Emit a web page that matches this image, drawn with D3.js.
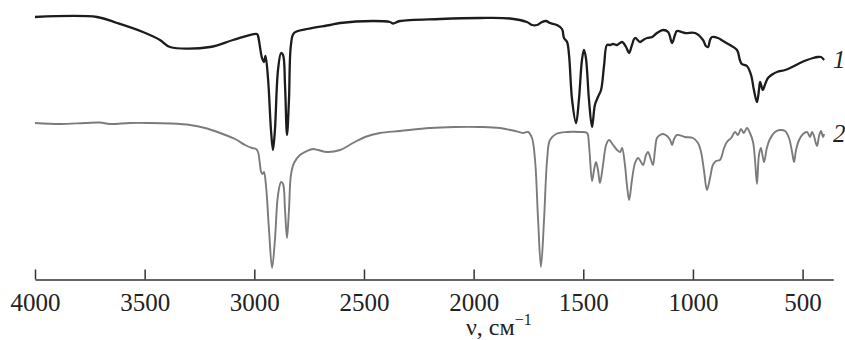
<!DOCTYPE html>
<html>
<head>
<meta charset="utf-8">
<script src="https://cdn.jsdelivr.net/npm/d3@7"></script>
<style>
  body { margin: 0; background: #fff; }
  svg { display: block; }
</style>
</head>
<body>
<svg class="Spectrum"></svg>
<script>
/* IR spectra, transmittance in arbitrary units (0 = axis line) */
const wavenumber_1 = [4000, 3717, 3626, 3508, 3430, 3384, 3202, 3097, 2988, 2983, 2965, 2956, 2949, 2937, 2924, 2915, 2906, 2892, 2878, 2869, 2860, 2851, 2842, 2833, 2819, 2760, 2655, 2609, 2459, 2381, 2367, 2336, 2153, 1971, 1834, 1757, 1734, 1711, 1688, 1670, 1652, 1620, 1597, 1588, 1574, 1565, 1551, 1533, 1520, 1506, 1497, 1488, 1474, 1460, 1447, 1433, 1419, 1405, 1392, 1378, 1364, 1346, 1323, 1305, 1291, 1278, 1264, 1241, 1227, 1209, 1186, 1164, 1136, 1113, 1095, 1082, 1073, 1036, 990, 954, 941, 931, 922, 913, 886, 863, 831, 799, 786, 777, 754, 735, 722, 708, 699, 694, 685, 681, 672, 658, 635, 617, 580, 557, 512, 480, 452, 430, 416, 402];
const transmittance_1 = [263, 263, 257, 248, 240, 233, 233, 240, 246, 244, 222, 218, 224, 200, 150, 130, 150, 210, 227, 225, 195, 145, 180, 235, 247, 251, 255, 257, 259, 258, 256.5, 259, 261, 262, 261.5, 258, 255, 255, 258, 259, 257, 255, 251, 242, 238, 225, 180, 157, 180, 220, 230, 222, 180, 153, 175, 183, 190, 215, 235, 235, 236, 235, 238, 233, 227, 235, 242, 238, 240, 242, 243, 247, 250, 248, 237, 245, 249, 247, 247, 240, 234, 233, 240, 243, 242, 239, 235, 230, 220, 216, 214, 205, 190, 178, 190, 198, 192, 190, 195, 202, 206, 208, 210, 212, 217, 220, 222, 223, 223, 220];

const wavenumber_2 = [4000, 3886, 3772, 3704, 3658, 3567, 3476, 3384, 3293, 3225, 3156, 3088, 3042, 3010, 2992, 2983, 2974, 2969, 2962, 2956, 2947, 2933, 2919, 2906, 2892, 2878, 2869, 2860, 2851, 2842, 2833, 2819, 2792, 2760, 2732, 2709, 2668, 2609, 2550, 2495, 2427, 2336, 2199, 2085, 1971, 1880, 1811, 1775, 1752, 1734, 1720, 1706, 1693, 1679, 1665, 1652, 1624, 1574, 1515, 1483, 1474, 1460, 1451, 1442, 1433, 1424, 1410, 1396, 1383, 1364, 1346, 1332, 1323, 1310, 1301, 1291, 1278, 1264, 1250, 1237, 1227, 1214, 1205, 1191, 1182, 1173, 1164, 1150, 1136, 1118, 1104, 1095, 1086, 1073, 1036, 1000, 977, 963, 950, 936, 922, 909, 895, 877, 858, 845, 826, 808, 795, 781, 768, 754, 740, 726, 717, 708, 699, 690, 676, 663, 649, 626, 603, 580, 562, 548, 539, 530, 516, 498, 480, 466, 457, 448, 441, 434, 425, 416, 407, 402];
const transmittance_2 = [157, 156, 157, 157.5, 156, 157, 157, 156.5, 155, 152, 147, 141, 135, 132, 131, 128, 115, 108, 106, 108, 95, 50, 12, 40, 85, 98, 96, 70, 42, 70, 105, 117, 125, 129, 131, 130, 128, 130, 137, 143, 147, 149, 152, 153, 153, 152, 149, 147, 148, 142, 120, 60, 13, 60, 120, 140, 146, 148, 148, 147, 135, 99, 110, 118, 110, 97, 115, 135, 140, 135, 130, 128, 132, 115, 95, 80, 100, 117, 122, 118, 115, 125, 128, 120, 115, 130, 142, 145, 146, 144, 140, 135, 141, 145, 143, 142, 137, 128, 110, 90, 102, 115, 119, 120, 132, 138, 142, 148, 145, 151, 147, 152, 147, 138, 120, 96, 125, 132, 118, 132, 141, 148, 150, 149, 142, 128, 118, 130, 140, 146, 148, 143, 148, 144, 138, 134, 144, 149, 143, 146];

const tick_values = [4000, 3500, 3000, 2500, 2000, 1500, 1000, 500];
const series_labels = ["1", "2"];

const width = 845;
const height = 340;
const serif = '"Liberation Serif", "Times New Roman", "DejaVu Serif", serif';

const main_svg = d3.select('.Spectrum')
  .attr('width', width)
  .attr('height', height);

const x = d3.scaleLinear().domain([4000, 360]).range([35, 833.3]);
const y = d3.scaleLinear().domain([0, 270]).range([280, 10]);

const line = d3.line()
  .x(d => x(d[0]))
  .y(d => y(d[1]))
  .curve(d3.curveCatmullRom.alpha(0.5));

const series = [
  { pts: d3.zip(wavenumber_1, transmittance_1), color: '#1c1c1c', w: 2.3 },
  { pts: d3.zip(wavenumber_2, transmittance_2), color: '#7b7b7b', w: 1.9 }
];

main_svg.append('g')
  .selectAll('path')
  .data(series)
  .enter().append('path')
  .attr('d', s => line(s.pts))
  .attr('fill', 'none')
  .attr('stroke', s => s.color)
  .attr('stroke-width', s => s.w)
  .attr('stroke-linejoin', 'round');

// curve numbers at the right end of each spectrum
main_svg.append('g')
  .selectAll('text')
  .data(series)
  .enter().append('text')
  .attr('x', 833)
  .attr('y', s => y(s.pts[s.pts.length - 1][1]) + 8)
  .style('font-family', serif)
  .style('font-style', 'italic')
  .style('font-size', '25px')
  .style('fill', '#222')
  .text((s, i) => series_labels[i]);

const axis = d3.axisBottom(x)
  .tickValues(tick_values)
  .tickSizeInner(-10)
  .tickSizeOuter(0)
  .tickPadding(14)
  .tickFormat(d3.format('d'));

const axis_g = main_svg.append('g')
  .attr('transform', 'translate(0,279.5)')
  .attr('font-family', serif)
  .call(axis);
axis_g.attr('font-family', serif);
axis_g.selectAll('path, line')
  .attr('stroke', '#333')
  .attr('stroke-width', 1.5);
axis_g.selectAll('text')
  .style('font-family', serif)
  .style('font-size', '25px')
  .style('fill', '#222');

const title = main_svg.append('text')
  .attr('x', 466)
  .attr('y', 335)
  .style('font-family', serif)
  .style('font-size', '24px')
  .style('fill', '#222');
title.append('tspan').text('ν, см');
title.append('tspan').attr('dy', -10).style('font-size', '16px').text('−1');
</script>
</body>
</html>
